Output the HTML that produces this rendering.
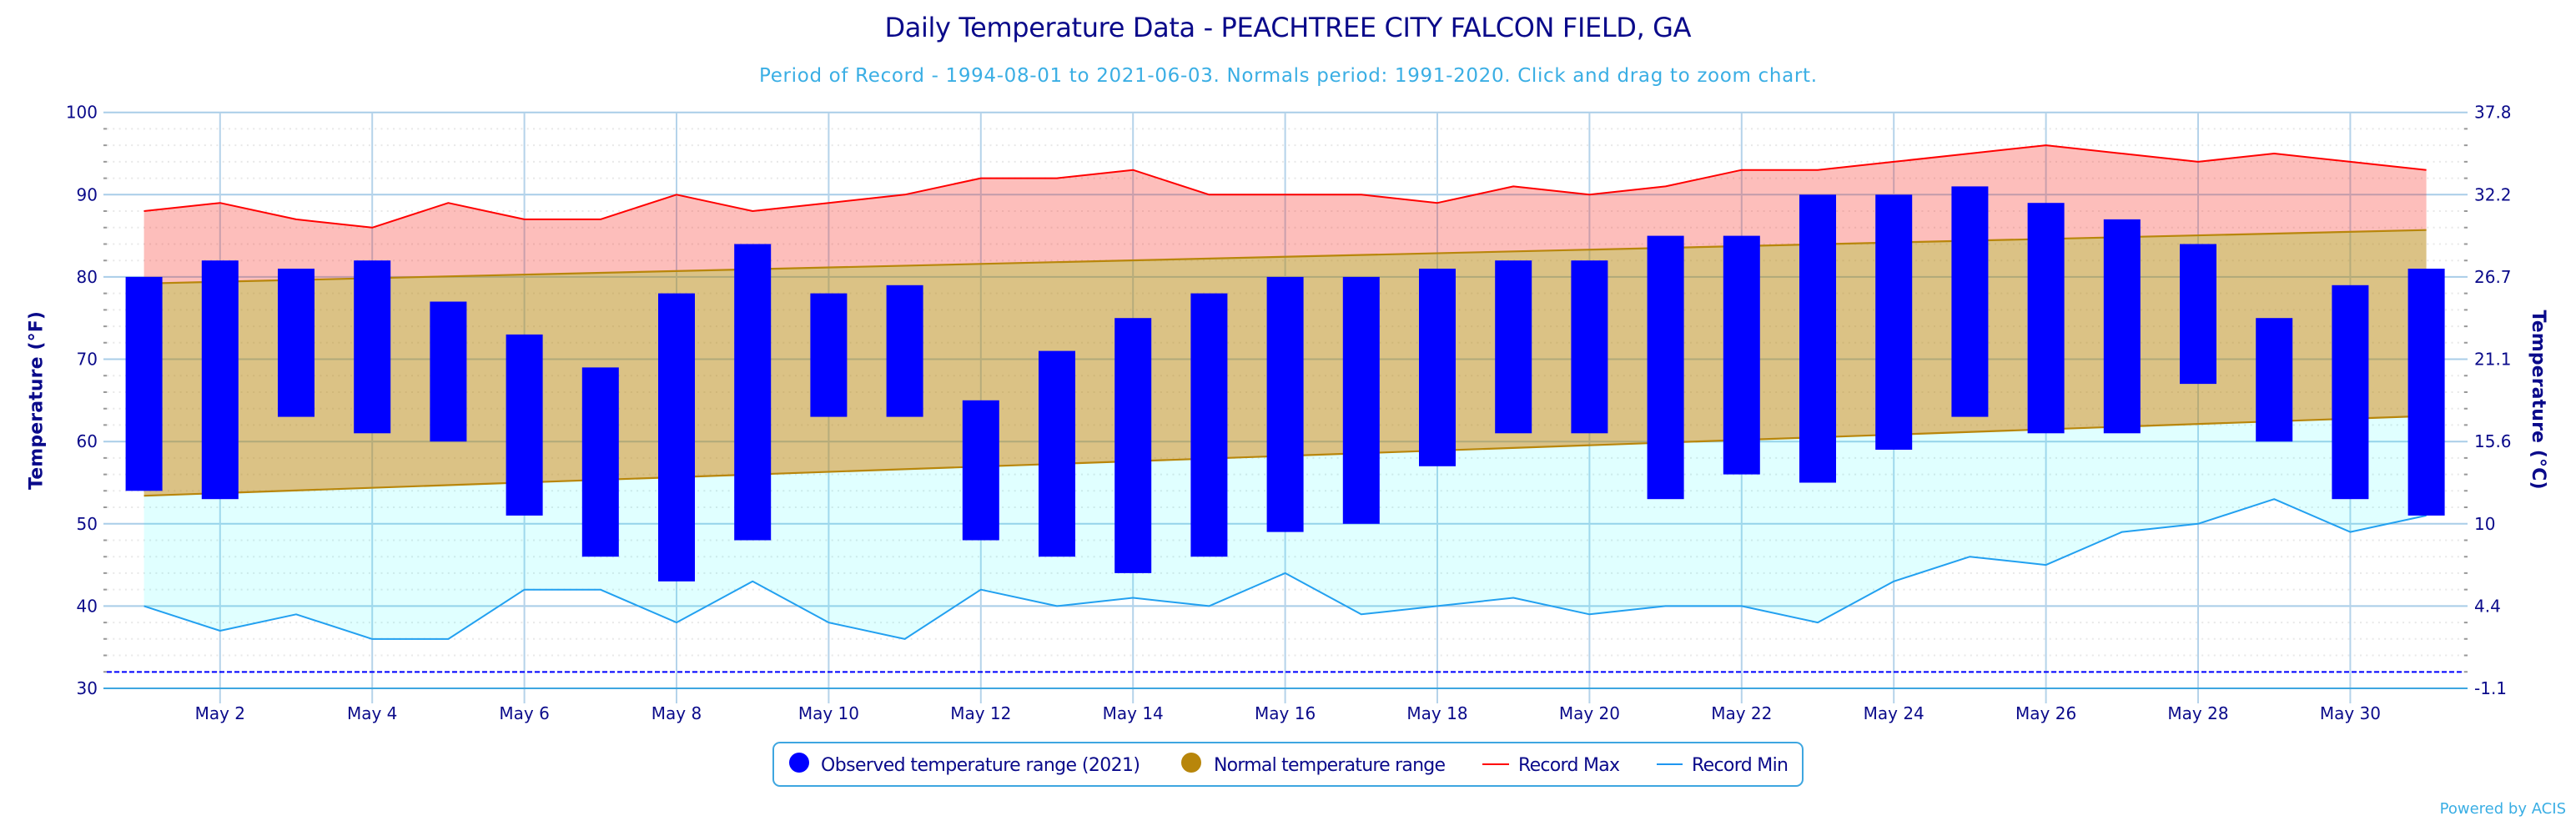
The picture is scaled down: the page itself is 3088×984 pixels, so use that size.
<!DOCTYPE html>
<html><head><meta charset="utf-8"><style>
html,body{margin:0;padding:0;background:#fff;}
body{width:3088px;height:984px;overflow:hidden;}
svg{display:block;font-family:"DejaVu Sans","Liberation Sans",sans-serif;}
</style></head><body>
<svg width="3088" height="984" viewBox="0 0 3088 984" xmlns="http://www.w3.org/2000/svg">
<rect x="0" y="0" width="3088" height="984" fill="#fff"/>
<!-- titles -->
<text x="1544" y="44" text-anchor="middle" font-size="32" fill="#0a0a8a" textLength="967">Daily Temperature Data - PEACHTREE CITY FALCON FIELD, GA</text>
<text x="1544" y="98" text-anchor="middle" font-size="23" fill="#3aaee4" textLength="1268">Period of Record - 1994-08-01 to 2021-06-03. Normals period: 1991-2020. Click and drag to zoom chart.</text>

<!-- minor gridlines (dotted) -->
<g stroke="#e8e8e8" stroke-width="2" stroke-dasharray="2 5.3" fill="none">
<path d="M128 154.4H2954M128 174.1H2954M128 193.9H2954M128 213.6H2954M128 253.0H2954M128 272.8H2954M128 292.5H2954M128 312.2H2954M128 351.6H2954M128 371.4H2954M128 391.1H2954M128 410.8H2954M128 450.3H2954M128 470.0H2954M128 489.7H2954M128 509.4H2954M128 548.9H2954M128 568.6H2954M128 588.3H2954M128 608.0H2954M128 647.5H2954M128 667.2H2954M128 686.9H2954M128 706.6H2954M128 746.1H2954M128 765.8H2954M128 785.5H2954M128 805.2H2954"/>
</g>
<!-- minor ticks -->
<g stroke="#999" stroke-width="2" fill="none">
<path d="M124 154.4H128M124 174.1H128M124 193.9H128M124 213.6H128M124 253.0H128M124 272.8H128M124 292.5H128M124 312.2H128M124 351.6H128M124 371.4H128M124 391.1H128M124 410.8H128M124 450.3H128M124 470.0H128M124 489.7H128M124 509.4H128M124 548.9H128M124 568.6H128M124 588.3H128M124 608.0H128M124 647.5H128M124 667.2H128M124 686.9H128M124 706.6H128M124 746.1H128M124 765.8H128M124 785.5H128M124 805.2H128"/>
<path d="M2954 154.4H2958M2954 174.1H2958M2954 193.9H2958M2954 213.6H2958M2954 253.0H2958M2954 272.8H2958M2954 292.5H2958M2954 312.2H2958M2954 351.6H2958M2954 371.4H2958M2954 391.1H2958M2954 410.8H2958M2954 450.3H2958M2954 470.0H2958M2954 489.7H2958M2954 509.4H2958M2954 548.9H2958M2954 568.6H2958M2954 588.3H2958M2954 608.0H2958M2954 647.5H2958M2954 667.2H2958M2954 686.9H2958M2954 706.6H2958M2954 746.1H2958M2954 765.8H2958M2954 785.5H2958M2954 805.2H2958"/>
</g>
<!-- major horizontal gridlines -->
<g stroke="#a9cde8" stroke-width="2" fill="none">
<path d="M124 134.7H2958M124 233.3H2958M124 331.9H2958M124 430.5H2958M124 529.2H2958M124 627.8H2958M124 726.4H2958"/>
</g>
<!-- vertical gridlines -->
<g stroke="#b5d3ea" stroke-width="2" fill="none">
<path d="M263.8 134.7V843M446.2 134.7V843M628.6 134.7V843M811.0 134.7V843M993.4 134.7V843M1175.8 134.7V843M1358.2 134.7V843M1540.6 134.7V843M1723.0 134.7V843M1905.4 134.7V843M2087.8 134.7V843M2270.2 134.7V843M2452.6 134.7V843M2635.0 134.7V843M2817.4 134.7V843"/>
</g>
<!-- x axis line -->
<path d="M124 825H2958" stroke="#3ea6e0" stroke-width="2"/>

<!-- record max band -->
<polygon fill="rgba(248,40,30,0.3)" points="172.6,253.0 263.8,243.2 355.0,262.9 446.2,272.8 537.4,243.2 628.6,262.9 719.8,262.9 811.0,233.3 902.2,253.0 993.4,243.2 1084.6,233.3 1175.8,213.6 1267.0,213.6 1358.2,203.7 1449.4,233.3 1540.6,233.3 1631.8,233.3 1723.0,243.2 1814.2,223.4 1905.4,233.3 1996.6,223.4 2087.8,203.7 2179.0,203.7 2270.2,193.9 2361.4,184.0 2452.6,174.1 2543.8,184.0 2635.0,193.9 2726.2,184.0 2817.4,193.9 2908.6,203.7 2908.6,275.7 172.6,339.8"/>
<!-- normal band -->
<polygon fill="rgba(184,134,11,0.5)" points="172.6,339.8 2908.6,275.7 2908.6,498.6 172.6,594.2"/>
<!-- record min band -->
<polygon fill="rgba(0,255,255,0.12)" points="172.6,594.2 2908.6,498.6 2908.6,617.9 2817.4,637.6 2726.2,598.2 2635.0,627.8 2543.8,637.6 2452.6,677.1 2361.4,667.2 2270.2,696.8 2179.0,746.1 2087.8,726.4 1996.6,726.4 1905.4,736.3 1814.2,716.5 1723.0,726.4 1631.8,736.3 1540.6,686.9 1449.4,726.4 1358.2,716.5 1267.0,726.4 1175.8,706.7 1084.6,765.9 993.4,746.1 902.2,696.8 811.0,746.1 719.8,706.7 628.6,706.7 537.4,765.9 446.2,765.9 355.0,736.3 263.8,756.0 172.6,726.4"/>

<!-- normal lines -->
<g stroke="#b8860b" stroke-width="2.2" fill="none">
<path d="M172.6 339.8L2908.6 275.7"/>
<path d="M172.6 594.2L2908.6 498.6"/>
</g>
<!-- record max line -->
<polyline fill="none" stroke="#ff0000" stroke-width="2" stroke-linejoin="round" points="172.6,253.0 263.8,243.2 355.0,262.9 446.2,272.8 537.4,243.2 628.6,262.9 719.8,262.9 811.0,233.3 902.2,253.0 993.4,243.2 1084.6,233.3 1175.8,213.6 1267.0,213.6 1358.2,203.7 1449.4,233.3 1540.6,233.3 1631.8,233.3 1723.0,243.2 1814.2,223.4 1905.4,233.3 1996.6,223.4 2087.8,203.7 2179.0,203.7 2270.2,193.9 2361.4,184.0 2452.6,174.1 2543.8,184.0 2635.0,193.9 2726.2,184.0 2817.4,193.9 2908.6,203.7"/>
<!-- record min line -->
<polyline fill="none" stroke="#22a0f0" stroke-width="2" stroke-linejoin="round" points="172.6,726.4 263.8,756.0 355.0,736.3 446.2,765.9 537.4,765.9 628.6,706.7 719.8,706.7 811.0,746.1 902.2,696.8 993.4,746.1 1084.6,765.9 1175.8,706.7 1267.0,726.4 1358.2,716.5 1449.4,726.4 1540.6,686.9 1631.8,736.3 1723.0,726.4 1814.2,716.5 1905.4,736.3 1996.6,726.4 2087.8,726.4 2179.0,746.1 2270.2,696.8 2361.4,667.2 2452.6,677.1 2543.8,637.6 2635.0,627.8 2726.2,598.2 2817.4,637.6 2908.6,617.9"/>

<!-- freezing line -->
<path d="M128 805.4H2954" stroke="#0000ff" stroke-width="2" stroke-dasharray="6 3"/>

<!-- observed bars -->
<g fill="#0000ff">
<rect x="150.6" y="331.9" width="44" height="256.4"/>
<rect x="241.8" y="312.2" width="44" height="286.0"/>
<rect x="333.0" y="322.0" width="44" height="177.6"/>
<rect x="424.2" y="312.2" width="44" height="207.1"/>
<rect x="515.4" y="361.5" width="44" height="167.7"/>
<rect x="606.6" y="400.9" width="44" height="217.0"/>
<rect x="697.8" y="440.4" width="44" height="226.8"/>
<rect x="789.0" y="351.6" width="44" height="345.2"/>
<rect x="880.2" y="292.5" width="44" height="355.0"/>
<rect x="971.4" y="351.6" width="44" height="148.0"/>
<rect x="1062.6" y="341.8" width="44" height="157.8"/>
<rect x="1153.8" y="479.8" width="44" height="167.7"/>
<rect x="1245.0" y="420.6" width="44" height="246.6"/>
<rect x="1336.2" y="381.2" width="44" height="305.7"/>
<rect x="1427.4" y="351.6" width="44" height="315.6"/>
<rect x="1518.6" y="331.9" width="44" height="305.7"/>
<rect x="1609.8" y="331.9" width="44" height="295.9"/>
<rect x="1701.0" y="322.0" width="44" height="236.8"/>
<rect x="1792.2" y="312.2" width="44" height="207.1"/>
<rect x="1883.4" y="312.2" width="44" height="207.1"/>
<rect x="1974.6" y="282.6" width="44" height="315.6"/>
<rect x="2065.8" y="282.6" width="44" height="286.0"/>
<rect x="2157.0" y="233.3" width="44" height="345.2"/>
<rect x="2248.2" y="233.3" width="44" height="305.7"/>
<rect x="2339.4" y="223.4" width="44" height="276.2"/>
<rect x="2430.6" y="243.2" width="44" height="276.1"/>
<rect x="2521.8" y="262.9" width="44" height="256.4"/>
<rect x="2613.0" y="292.5" width="44" height="167.6"/>
<rect x="2704.2" y="381.2" width="44" height="148.0"/>
<rect x="2795.4" y="341.8" width="44" height="256.4"/>
<rect x="2886.6" y="322.0" width="44" height="295.9"/>
</g>

<!-- left y labels -->
<g font-size="20" fill="#0a0a8a" text-anchor="end">
<text x="117" y="141.7">100</text>
<text x="117" y="240.3">90</text>
<text x="117" y="338.9">80</text>
<text x="117" y="437.5">70</text>
<text x="117" y="536.2">60</text>
<text x="117" y="634.8">50</text>
<text x="117" y="733.4">40</text>
<text x="117" y="832">30</text>
</g>
<!-- right y labels -->
<g font-size="20" fill="#0a0a8a" text-anchor="start">
<text x="2966" y="141.7">37.8</text>
<text x="2966" y="240.3">32.2</text>
<text x="2966" y="338.9">26.7</text>
<text x="2966" y="437.5">21.1</text>
<text x="2966" y="536.2">15.6</text>
<text x="2966" y="634.8">10</text>
<text x="2966" y="733.4">4.4</text>
<text x="2966" y="832">-1.1</text>
</g>
<!-- x labels -->
<g font-size="20" fill="#0a0a8a" text-anchor="middle">
<text x="263.8" y="862">May 2</text>
<text x="446.2" y="862">May 4</text>
<text x="628.6" y="862">May 6</text>
<text x="811.0" y="862">May 8</text>
<text x="993.4" y="862">May 10</text>
<text x="1175.8" y="862">May 12</text>
<text x="1358.2" y="862">May 14</text>
<text x="1540.6" y="862">May 16</text>
<text x="1723.0" y="862">May 18</text>
<text x="1905.4" y="862">May 20</text>
<text x="2087.8" y="862">May 22</text>
<text x="2270.2" y="862">May 24</text>
<text x="2452.6" y="862">May 26</text>
<text x="2635.0" y="862">May 28</text>
<text x="2817.4" y="862">May 30</text>
</g>
<!-- axis titles -->
<text transform="translate(50.5,480) rotate(-90)" text-anchor="middle" font-size="22" font-weight="bold" fill="#0a0a8a" textLength="214">Temperature (°F)</text>
<text transform="translate(3036,479) rotate(90)" text-anchor="middle" font-size="22" font-weight="bold" fill="#0a0a8a" textLength="215">Temperature (°C)</text>

<!-- legend -->
<rect x="927" y="890" width="1234" height="52" rx="8" ry="8" fill="#fff" stroke="#3ea6e0" stroke-width="2"/>
<circle cx="958" cy="914" r="12" fill="#0000ff"/>
<text x="984" y="924" font-size="22" fill="#0a0a8a" textLength="383">Observed temperature range (2021)</text>
<circle cx="1428" cy="914" r="12" fill="#b8860b"/>
<text x="1455" y="924" font-size="22" fill="#0a0a8a" textLength="278">Normal temperature range</text>
<path d="M1777 916H1809" stroke="#ff0000" stroke-width="2"/>
<text x="1820" y="924" font-size="22" fill="#0a0a8a" textLength="122">Record Max</text>
<path d="M1986 916H2017" stroke="#1e96f0" stroke-width="2"/>
<text x="2028" y="924" font-size="22" fill="#0a0a8a" textLength="116">Record Min</text>

<!-- credits -->
<text x="3076" y="975" text-anchor="end" font-size="18" fill="#3aaee4">Powered by ACIS</text>
</svg>
</body></html>
